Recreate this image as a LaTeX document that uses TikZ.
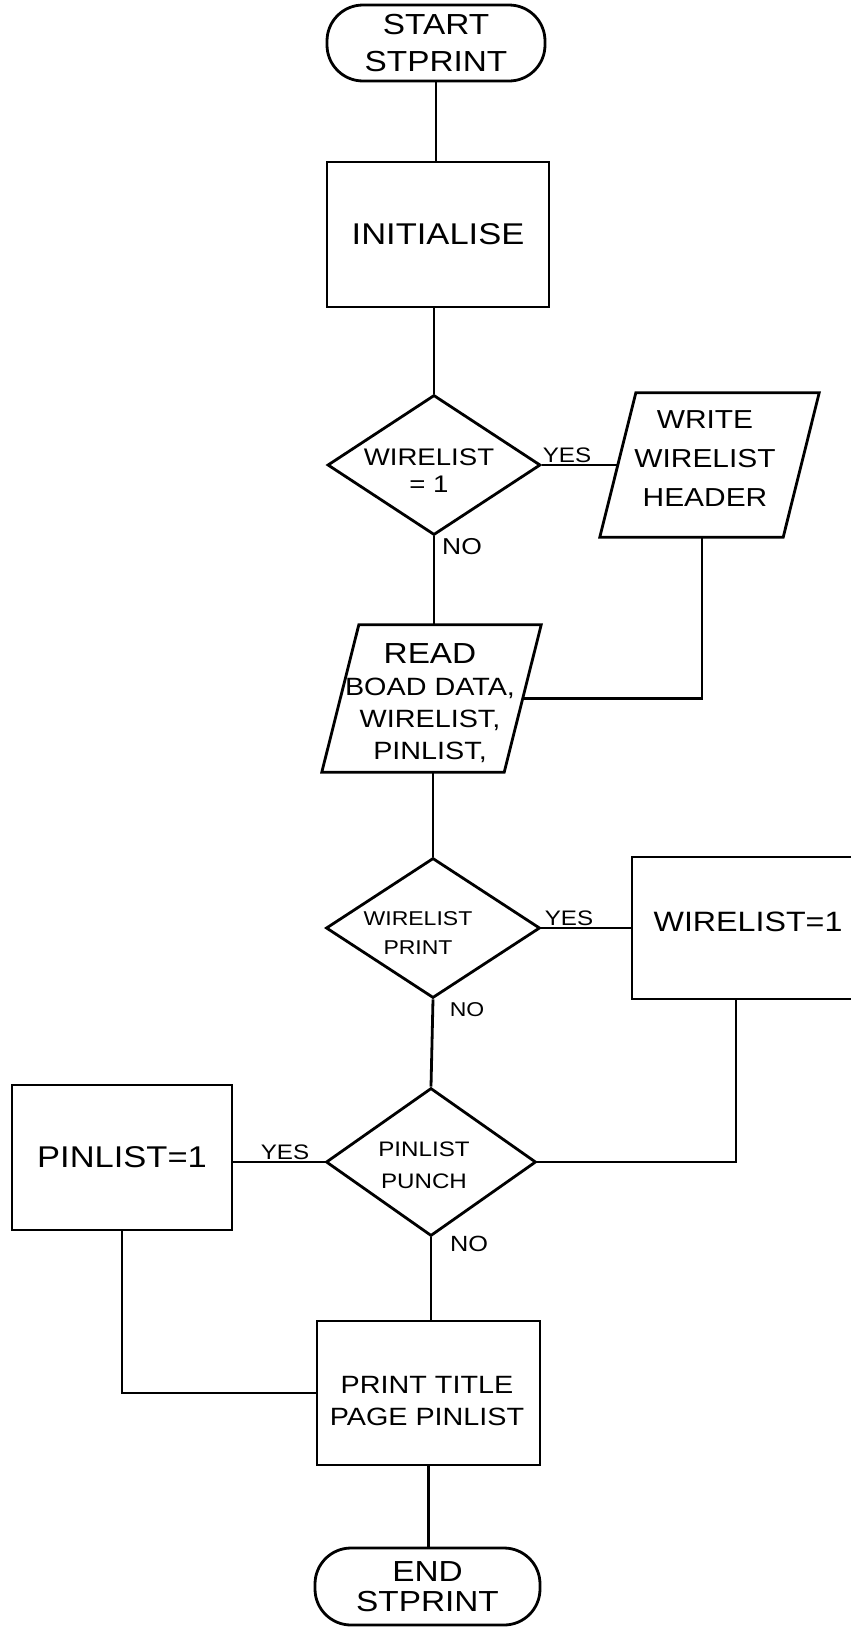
\documentclass[tikz,border=0pt]{standalone}
\usepackage{fontspec}
\setmainfont{Liberation Sans}[FakeStretch=1.15]
\usetikzlibrary{shapes.geometric}
\newcommand\setfs[2]{\fontsize{#1pt}{#2pt}\selectfont}
\tikzset{
  flow/.style={draw, line width=2.8pt, inner sep=0pt, align=center},
  term/.style={flow, rectangle, rounded corners=36pt},
  proc/.style={flow, rectangle},
  dec/.style={flow, diamond},
  iobody/.style={rectangle, inner sep=0pt},
  ioline/.style={line width=2.8pt, line join=miter},
  conn/.style={line width=2.8pt},
  txt/.style={inner sep=0pt, align=center},
}
\begin{document}
\begin{tikzpicture}[x=1pt,y=-1pt]
\useasboundingbox (0,0) rectangle (851,1628);
\clip (0,0) rectangle (851,1628);
\fill[white] (0,0) rectangle (851,1628);

% nodes
\node[term, minimum width=218pt, minimum height=76pt, font=\setfs{29}{37}] (start) at (436,43) {START\\STPRINT};
\node[proc, minimum width=222pt, minimum height=145pt, font=\setfs{30}{36}] (init) at (438,234.5) {INITIALISE};

\node[dec, minimum width=213pt, minimum height=140pt] (d1) at (434,465) {};
\node[txt, font=\setfs{24}{27}] (d1t) at (429,471) {WIRELIST\\= 1};
\node[txt, font=\setfs{21}{21}, anchor=south] (yes1) at (567,463) {YES};
\node[txt, font=\setfs{23}{23}] (no1) at (462,547) {NO};

% WRITE WIRELIST HEADER (parallelogram)
\node[iobody, minimum width=183pt, minimum height=144pt] (w1) at (709.5,465) {};
\draw[ioline] ([xshift=-18pt]w1.south west) -- ([xshift=-18pt]w1.south east)
   -- ([xshift=18pt]w1.north east) -- ([xshift=18pt]w1.north west) -- cycle;
\node[txt, font=\setfs{26}{39}] (w1t) at (705,459) {WRITE\\WIRELIST\\HEADER};

% READ (parallelogram)
\node[iobody, minimum width=182pt, minimum height=147pt] (r1) at (431.5,698.5) {};
\draw[ioline] ([xshift=-18.5pt]r1.south west) -- ([xshift=-18.5pt]r1.south east)
   -- ([xshift=18.5pt]r1.north east) -- ([xshift=18.5pt]r1.north west) -- cycle;
\node[txt, font=\setfs{25}{32}] (r1t) at (430,703) {{\setfs{29}{32}READ}\\BOAD DATA,\\WIRELIST,\\PINLIST,};

\node[dec, minimum width=214pt, minimum height=140pt] (d2) at (433,928) {};
\node[txt, font=\setfs{20}{29}] (d2t) at (418,933) {WIRELIST\\PRINT};
\node[txt, font=\setfs{21}{21}, anchor=south] (yes2) at (569,926) {YES};
\node[txt, font=\setfs{20}{20}] (no2) at (467,1010) {NO};

\node[proc, minimum width=230pt, minimum height=142pt] (wl1) at (747,928) {};
\node[txt, font=\setfs{28}{28}] (wl1t) at (748,922) {WIRELIST=1};

\node[dec, minimum width=210pt, minimum height=148pt] (d3) at (431,1162) {};
\node[txt, font=\setfs{21}{32}] (d3t) at (424,1165) {PINLIST\\PUNCH};
\node[txt, font=\setfs{21}{21}, anchor=south] (yes3) at (285,1160) {YES};
\node[txt, font=\setfs{22}{22}] (no3) at (469,1244) {NO};

\node[proc, minimum width=220pt, minimum height=145pt, font=\setfs{30}{30}] (p1) at (122,1157.5) {PINLIST=1};

\node[proc, minimum width=223pt, minimum height=144pt] (pr) at (428.5,1393) {};
\node[txt, font=\setfs{25}{32}] (prt) at (427,1401) {PRINT TITLE\\PAGE PINLIST};

\node[term, minimum width=225pt, minimum height=77pt, font=\setfs{29}{30}] (end) at (427.5,1586.5) {END\\STPRINT};

% connectors
\draw[conn] (start.south) -- (start.south |- init.north);
\draw[conn] (d1.north |- init.south) -- (d1.north);
\draw[conn] (d1.east) -- (w1.west);
\draw[conn] ([xshift=-7.5pt]w1.south) |- (r1.east);
\draw[conn] (d1.south) -- (d1.south |- r1.north);
\draw[conn] (d2.north |- r1.south) -- (d2.north);
\draw[conn] (d2.east) -- (d2.east -| wl1.west);
\draw[conn] ([xshift=-11pt]wl1.south) |- (d3.east);
\draw[conn] (d2.south) -- (d3.north);
\draw[conn] (d3.west) -- (d3.west -| p1.east);
\draw[conn] (p1.south) |- (pr.west);
\draw[conn] (d3.south) -- (d3.south |- pr.north);
\draw[conn] (pr.south) -- (pr.south |- end.north);
\end{tikzpicture}
\end{document}
